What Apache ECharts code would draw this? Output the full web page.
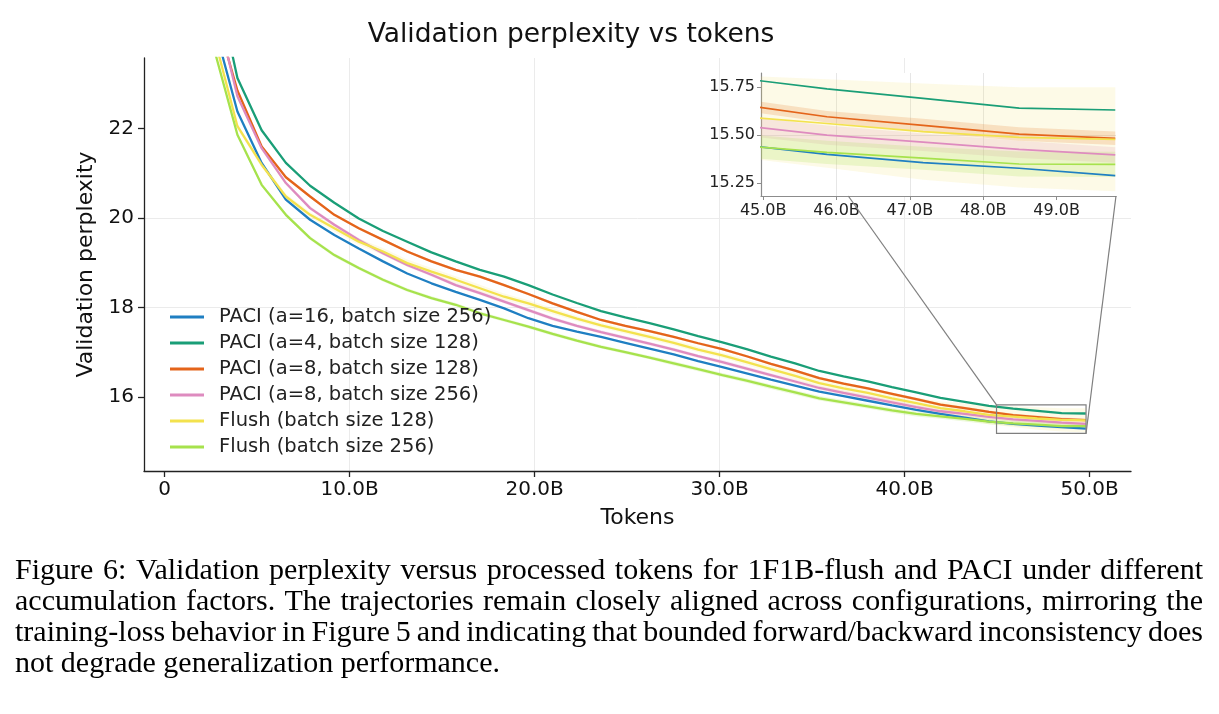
<!DOCTYPE html>
<html>
<head>
<meta charset="utf-8">
<title>Validation perplexity vs tokens</title>
<script src="https://cdn.jsdelivr.net/npm/echarts@6.0.0/dist/echarts.min.js"></script>
<style>
html, body { margin: 0; padding: 0; background: #fff; }
#container { width: 1219px; height: 714px; }
</style>
</head>
<body>
<div id="container"></div>
<script>
// eval points, in billions of tokens
var tokens = [1.31, 2.62, 3.93, 5.24, 6.55, 7.86, 9.17, 10.49, 11.8, 13.11, 14.42, 15.73, 17.04, 18.35,
    19.66, 20.97, 22.28, 23.59, 24.9, 26.21, 27.52, 28.84, 30.15, 31.46, 32.77, 34.08, 35.39, 36.7,
    38.01, 39.32, 40.63, 41.94, 43.25, 44.56, 45.87, 47.18, 48.49, 49.8];

var paciA16B256 = [29.0, 24.39, 22.38, 21.23, 20.41, 19.96, 19.62, 19.32, 19.03, 18.76, 18.54, 18.35, 18.17, 17.98,
    17.76, 17.59, 17.46, 17.34, 17.21, 17.08, 16.95, 16.80, 16.665, 16.525, 16.385, 16.255, 16.12, 16.02,
    15.915, 15.81, 15.71, 15.62, 15.54, 15.455, 15.40, 15.357, 15.328, 15.29];
var paciA4B128 = [30.2, 25.6, 23.13, 21.96, 21.23, 20.72, 20.34, 19.99, 19.71, 19.47, 19.23, 19.03, 18.84, 18.69,
    18.50, 18.29, 18.10, 17.92, 17.78, 17.65, 17.51, 17.36, 17.22, 17.07, 16.90, 16.75, 16.58, 16.46,
    16.35, 16.22, 16.10, 15.98, 15.89, 15.80, 15.74, 15.69, 15.64, 15.63];
var paciA8B128 = [29.5, 24.75, 22.85, 21.60, 20.91, 20.48, 20.07, 19.77, 19.51, 19.25, 19.03, 18.84, 18.69, 18.50,
    18.30, 18.09, 17.90, 17.72, 17.59, 17.47, 17.34, 17.20, 17.07, 16.91, 16.74, 16.59, 16.42, 16.30,
    16.19, 16.07, 15.95, 15.83, 15.75, 15.665, 15.595, 15.55, 15.505, 15.483];
var paciA8B256 = [29.8, 24.96, 22.72, 21.56, 20.78, 20.22, 19.85, 19.51, 19.21, 18.95, 18.73, 18.50, 18.32, 18.13,
    17.94, 17.75, 17.59, 17.45, 17.32, 17.19, 17.06, 16.91, 16.78, 16.635, 16.49, 16.345, 16.20, 16.09,
    15.985, 15.88, 15.77, 15.68, 15.62, 15.555, 15.50, 15.463, 15.426, 15.397];
var flushB128 = [28.6, 24.13, 22.05, 21.19, 20.48, 20.07, 19.77, 19.47, 19.25, 18.99, 18.80, 18.62, 18.43, 18.24,
    18.09, 17.92, 17.75, 17.60, 17.47, 17.34, 17.21, 17.06, 16.93, 16.78, 16.62, 16.47, 16.31, 16.19,
    16.09, 15.97, 15.86, 15.75, 15.68, 15.60, 15.56, 15.518, 15.488, 15.478];
var flushB256 = [28.0, 23.85, 21.86, 20.74, 20.07, 19.55, 19.17, 18.88, 18.62, 18.39, 18.21, 18.06, 17.87, 17.72,
    17.57, 17.41, 17.26, 17.12, 17.00, 16.88, 16.75, 16.62, 16.49, 16.365, 16.23, 16.10, 15.97, 15.88,
    15.79, 15.70, 15.62, 15.565, 15.51, 15.45, 15.41, 15.38, 15.35, 15.348];

// spread across runs (shaded bands)
var flushB128Std = [0.10, 0.08, 0.06, 0.06, 0.06, 0.06, 0.07, 0.07, 0.08, 0.08, 0.08, 0.08, 0.08, 0.07,
    0.07, 0.07, 0.06, 0.06, 0.06, 0.06, 0.06, 0.06, 0.06, 0.07, 0.07, 0.08, 0.09, 0.10,
    0.11, 0.12, 0.13, 0.15, 0.18, 0.21, 0.23, 0.25, 0.26, 0.27];
var flushB256Std = [0.05, 0.05, 0.04, 0.04, 0.04, 0.04, 0.04, 0.04, 0.04, 0.04, 0.04, 0.04, 0.04, 0.04,
    0.04, 0.04, 0.04, 0.04, 0.04, 0.04, 0.045, 0.045, 0.045, 0.05, 0.05, 0.05, 0.05, 0.05,
    0.05, 0.055, 0.055, 0.055, 0.06, 0.06, 0.06, 0.06, 0.065, 0.065];
var paciA8B128Std = [0.04, 0.04, 0.03, 0.03, 0.03, 0.03, 0.03, 0.03, 0.03, 0.03, 0.03, 0.03, 0.03, 0.03,
    0.03, 0.03, 0.03, 0.03, 0.03, 0.03, 0.03, 0.03, 0.03, 0.03, 0.03, 0.03, 0.03, 0.03,
    0.03, 0.03, 0.03, 0.03, 0.03, 0.03, 0.03, 0.035, 0.035, 0.035];
var paciA8B256Std = [0.04, 0.04, 0.04, 0.04, 0.04, 0.04, 0.04, 0.04, 0.04, 0.04, 0.04, 0.04, 0.04, 0.04,
    0.04, 0.04, 0.04, 0.04, 0.04, 0.04, 0.04, 0.04, 0.045, 0.045, 0.045, 0.045, 0.045, 0.05,
    0.05, 0.05, 0.05, 0.05, 0.05, 0.05, 0.05, 0.045, 0.045, 0.04];

var seriesNames = ['PACI (a=16, batch size 256)', 'PACI (a=4, batch size 128)', 'PACI (a=8, batch size 128)',
    'PACI (a=8, batch size 256)', 'Flush (batch size 128)', 'Flush (batch size 256)'];
var seriesValues = [paciA16B256, paciA4B128, paciA8B128, paciA8B256, flushB128, flushB256];
var seriesColors = ['#1f7fc2', '#1a9e77', '#e4641a', '#de8bbf', '#f3e24e', '#a6e24c'];

var bandValues = [[paciA8B128, paciA8B128Std, '#e4641a', 0.2], [paciA8B256, paciA8B256Std, '#de8bbf', 0.2],
    [flushB128, flushB128Std, '#f2e26a', 0.16], [flushB256, flushB256Std, '#a6e24c', 0.2]];

var xTicks = [0, 10, 20, 30, 40, 50];
var yTicks = [16, 18, 20, 22];
var insetXTicks = [45, 46, 47, 48, 49];
var insetYTicks = [15.25, 15.5, 15.75];

var mainX = [-1.12, 52.24], mainY = [14.345, 23.575];
var insetX = [44.97, 49.81], insetY = [15.184, 15.822];

var captionLines = [
    'Figure 6: Validation perplexity versus processed tokens for 1F1B-flush and PACI under different',
    'accumulation factors. The trajectories remain closely aligned across configurations, mirroring the',
    'training-loss behavior in Figure 5 and indicating that bounded forward/backward inconsistency does',
    'not degrade generalization performance.'
];

var dom = document.getElementById('container');
var myChart = echarts.init(dom);
var FONT = 'DejaVu Sans';

function pairs(vals) {
    return tokens.map(function (t, i) { return [t, vals[i]]; });
}

function bandSeries(vals, std, color, alpha, gi, z) {
    return {
        type: 'custom',
        xAxisIndex: gi,
        yAxisIndex: gi,
        z: z,
        silent: true,
        clip: true,
        data: tokens.map(function (t, i) { return [t, vals[i] - std[i], vals[i] + std[i]]; }),
        encode: { x: 0, y: [1, 2] },
        renderItem: function (params, api) {
            if (params.dataIndexInside !== 0) return null;
            var up = [], lo = [];
            for (var i = 0; i < tokens.length; i++) {
                up.push(api.coord([api.value(0, i), api.value(2, i)]));
                lo.unshift(api.coord([api.value(0, i), api.value(1, i)]));
            }
            var cs = params.coordSys;
            return {
                type: 'polygon',
                shape: { points: up.concat(lo) },
                style: { fill: color, opacity: alpha },
                clipPath: { type: 'rect', shape: { x: cs.x, y: cs.y, width: cs.width, height: cs.height } }
            };
        }
    };
}

function tokFmt(v) {
    return v === 0 ? '0' : v.toFixed(1) + 'B';
}

var series = [];
[0, 1].forEach(function (gi) {
    bandValues.forEach(function (b) {
        series.push(bandSeries(b[0], b[1], b[2], b[3], gi, gi ? 12 : 1));
    });
    seriesValues.forEach(function (vals, i) {
        series.push({
            name: seriesNames[i],
            type: 'line',
            xAxisIndex: gi,
            yAxisIndex: gi,
            data: pairs(vals),
            showSymbol: false,
            symbol: 'none',
            clip: true,
            silent: true,
            z: gi ? 13 : 3,
            itemStyle: { color: seriesColors[i] },
            lineStyle: { color: seriesColors[i], width: gi ? 1.7 : 2.3 }
        });
    });
});

var option = {
    animation: false,
    backgroundColor: '#fff',
    color: seriesColors,
    title: {
        text: 'Validation perplexity vs tokens',
        left: 566,
        top: 17,
        textAlign: 'center',
        textStyle: { fontFamily: FONT, fontSize: 26.5, fontWeight: 'normal', color: '#111' }
    },
    legend: {
        data: seriesNames,
        orient: 'vertical',
        left: 170,
        top: 307,
        padding: 0,
        itemGap: 6,
        itemWidth: 34,
        itemHeight: 3,
        icon: 'rect',
        selectedMode: false,
        textStyle: { fontFamily: FONT, fontSize: 19.5, color: '#222', padding: [0, 0, 0, 10] }
    },
    grid: [
        { left: 144, top: 58, right: 88, bottom: 243 },
        { left: 761, top: 73, right: 103, bottom: 518, show: true, backgroundColor: '#fff', borderWidth: 0, z: 10 }
    ],
    xAxis: [
        {
            type: 'value', gridIndex: 0, min: mainX[0], max: mainX[1], minInterval: 10, maxInterval: 10,
            name: 'Tokens', nameLocation: 'middle', nameGap: 36,
            nameTextStyle: { fontFamily: FONT, fontSize: 22, color: '#111' },
            axisLine: { show: true, onZero: false, lineStyle: { color: '#222', width: 1.3 } },
            axisTick: { show: true, length: 6, customValues: xTicks, lineStyle: { color: '#222', width: 1.3 } },
            axisLabel: { customValues: xTicks, fontFamily: FONT, fontSize: 20, color: '#111', margin: 9, formatter: tokFmt },
            splitLine: { show: true, showMinLine: false, showMaxLine: false, lineStyle: { color: '#ebebeb', width: 1 } }
        },
        {
            type: 'value', gridIndex: 1, min: insetX[0], max: insetX[1], minInterval: 1, maxInterval: 1, z: 11,
            axisLine: { show: true, onZero: false, lineStyle: { color: '#8c8c8c', width: 1.2 } },
            axisTick: { show: true, length: 4, customValues: insetXTicks, lineStyle: { color: '#8c8c8c' } },
            axisLabel: { customValues: insetXTicks, fontFamily: FONT, fontSize: 16, color: '#222', margin: 7, formatter: tokFmt },
            splitLine: { show: true, showMinLine: false, showMaxLine: false, lineStyle: { color: '#e6e6e6', width: 1 } }
        }
    ],
    yAxis: [
        {
            type: 'value', gridIndex: 0, min: mainY[0], max: mainY[1], minInterval: 2, maxInterval: 2,
            name: 'Validation perplexity', nameLocation: 'middle', nameGap: 41,
            nameTextStyle: { fontFamily: FONT, fontSize: 22, color: '#111' },
            axisLine: { show: true, onZero: false, lineStyle: { color: '#222', width: 1.3 } },
            axisTick: { show: true, length: 6, customValues: yTicks, lineStyle: { color: '#222', width: 1.3 } },
            axisLabel: { customValues: yTicks, fontFamily: FONT, fontSize: 20, color: '#111', margin: 10 },
            splitLine: { show: true, showMinLine: false, showMaxLine: false, lineStyle: { color: '#ebebeb', width: 1 } }
        },
        {
            type: 'value', gridIndex: 1, min: insetY[0], max: insetY[1], minInterval: 0.25, maxInterval: 0.25, z: 11,
            axisLine: { show: true, onZero: false, lineStyle: { color: '#8c8c8c', width: 1.2 } },
            axisTick: { show: true, length: 4, customValues: insetYTicks, lineStyle: { color: '#8c8c8c' } },
            axisLabel: { customValues: insetYTicks, fontFamily: FONT, fontSize: 16, color: '#222', margin: 6,
                formatter: function (v) { return v.toFixed(2); } },
            splitLine: { show: true, showMinLine: false, showMaxLine: false, lineStyle: { color: '#e6e6e6', width: 1 } }
        }
    ],
    series: series
};
myChart.setOption(option, true);

// zoom rectangle + connectors, placed from the axes' own scales
var tl = myChart.convertToPixel({ gridIndex: 0 }, [insetX[0], insetY[1]]);
var br = myChart.convertToPixel({ gridIndex: 0 }, [insetX[1], insetY[0]]);
var itl = myChart.convertToPixel({ gridIndex: 1 }, [insetX[0], insetY[1]]);
var ibr = myChart.convertToPixel({ gridIndex: 1 }, [insetX[1], insetY[0]]);
var t = (tl[1] - ibr[1]) / (tl[1] - itl[1]);
var cutX = tl[0] + (itl[0] - tl[0]) * t;
var gray = { stroke: '#7f7f7f', lineWidth: 1.2, fill: null };

var graphics = [
    { type: 'rect', z: 20, silent: true, shape: { x: tl[0], y: tl[1], width: br[0] - tl[0], height: br[1] - tl[1] }, style: gray },
    { type: 'line', z: 20, silent: true, shape: { x1: tl[0], y1: tl[1], x2: cutX, y2: ibr[1] }, style: gray },
    { type: 'line', z: 20, silent: true, shape: { x1: br[0], y1: br[1], x2: ibr[0], y2: ibr[1] }, style: gray }
];

// justified caption
var capFont = 29, capScale = 1.035, capX0 = 15, capX1 = 1203, capY0 = 571, capLH = 31.1;
var ctx = document.createElement('canvas').getContext('2d');
ctx.font = capFont + 'px "Liberation Serif"';
captionLines.forEach(function (line, li) {
    var y = capY0 + li * capLH;
    var textEl = function (s, x) {
        return { type: 'text', silent: true, x: x, y: y, scaleX: capScale,
            style: { text: s, font: capFont + 'px "Liberation Serif"', fill: '#000', textVerticalAlign: 'middle' } };
    };
    if (li === captionLines.length - 1) {
        graphics.push(textEl(line, capX0));
        return;
    }
    var words = line.split(' ');
    var widths = words.map(function (w) { return ctx.measureText(w).width * capScale; });
    var total = widths.reduce(function (a, b) { return a + b; }, 0);
    var gap = (capX1 - capX0 - total) / (words.length - 1);
    var x = capX0;
    words.forEach(function (w, wi) {
        graphics.push(textEl(w, x));
        x += widths[wi] + gap;
    });
});

myChart.setOption({ graphic: graphics });
</script>
</body>
</html>
